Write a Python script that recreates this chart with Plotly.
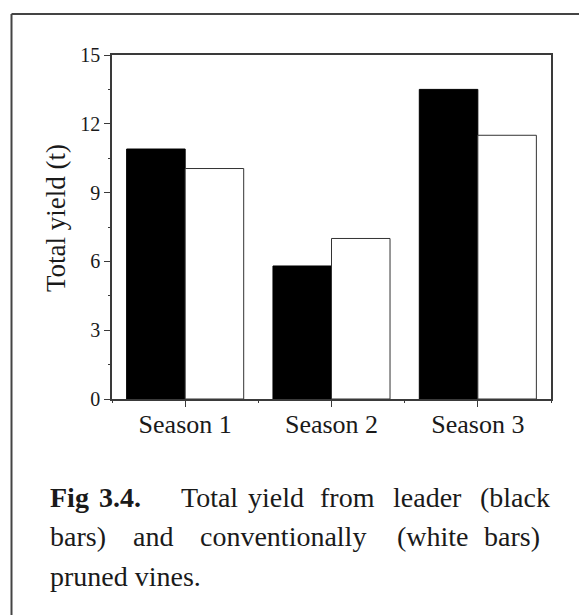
import plotly.graph_objects as go

# ---- data ----
seasons = ["Season 1", "Season 2", "Season 3"]
leader_yield = [10.9, 5.8, 13.5]          # black bars
conventional_yield = [10.05, 7.0, 11.5]    # white bars
y_ticks = [0, 3, 6, 9, 12, 15]

# ---- layout geometry (pixels) ----
W, H = 579, 615
L, R, T, B = 112, 551, 55, 399
PW, PH = R - L, B - T

def px_x(px):
    return (px - L) / PW

def px_y(py):
    return (B - py) / PH

FONT = "Liberation Serif"
TXT = "#1a1a1a"
AX = "#3a3a3a"

xpos = list(range(len(seasons)))

fig = go.Figure()
fig.add_trace(go.Bar(x=xpos, y=leader_yield, name="Leader",
                     marker=dict(color="black", line=dict(color="black", width=1))))
fig.add_trace(go.Bar(x=xpos, y=conventional_yield, name="Conventional",
                     marker=dict(color="white", line=dict(color="#333333", width=1))))

fig.update_layout(
    width=W, height=H,
    margin=dict(l=L, r=W - R, t=T, b=H - B),
    paper_bgcolor="white", plot_bgcolor="white",
    barmode="group", bargap=0.2, bargroupgap=0,
    showlegend=False,
    font=dict(family=FONT, color=TXT),
)

fig.update_xaxes(
    range=[-0.5, 2.5], tickmode="array", tickvals=xpos, ticktext=seasons,
    ticks="outside", ticklen=6, tickwidth=1.2, tickcolor=AX,
    ticklabelstandoff=-5,
    minor=dict(tickmode="linear", tick0=0.5, dtick=1, ticks="outside",
               ticklen=2, tickwidth=1, tickcolor=AX, showgrid=False),
    showline=True, linecolor=AX, linewidth=1.5, mirror=True,
    showgrid=False, zeroline=False,
    tickfont=dict(family=FONT, size=26, color=TXT),
)
fig.update_yaxes(
    range=[0, 15], tickmode="array", tickvals=y_ticks,
    ticks="outside", ticklen=6, tickwidth=1.2, tickcolor=AX,
    minor=dict(tickmode="linear", tick0=1.5, dtick=3, ticks="outside",
               ticklen=2, tickwidth=1, tickcolor=AX, showgrid=False),
    showline=True, linecolor=AX, linewidth=1.5, mirror=True,
    showgrid=False, zeroline=False,
    tickfont=dict(family=FONT, size=20, color=TXT),
)

annotations = []
# y-axis title
annotations.append(dict(
    text="Total yield (t)", textangle=-90, showarrow=False,
    xref="paper", yref="paper", x=px_x(56), y=px_y(218),
    xanchor="center", yanchor="middle",
    font=dict(family=FONT, size=27, color=TXT)))

# caption, laid out word by word to mimic justified text
caption_lines = [
    (497, [("<b>Fig</b>", 48), ("<b>3.4.</b>", 97), ("Total", 179), ("yield", 246),
           ("from", 318), ("leader", 391), ("(black", 478)]),
    (536, [("bars)", 48), ("and", 131), ("conventionally", 198), ("(white", 395),
           ("bars)", 482)]),
    (576, [("pruned vines.", 48)]),
]
for ypx, words in caption_lines:
    for word, xpx in words:
        annotations.append(dict(
            text=word, showarrow=False, xref="paper", yref="paper",
            x=px_x(xpx), y=px_y(ypx), xanchor="left", yanchor="middle",
            font=dict(family=FONT, size=28, color=TXT)))
fig.update_layout(annotations=annotations)

# outer frame (left and top edges)
frame_left, frame_top = 11.5, 14
fig.add_shape(type="line", xref="paper", yref="paper",
              x0=px_x(frame_left), y0=px_y(frame_top), x1=px_x(W + 5), y1=px_y(frame_top),
              line=dict(color="#444444", width=2))
fig.add_shape(type="line", xref="paper", yref="paper",
              x0=px_x(frame_left), y0=px_y(frame_top), x1=px_x(frame_left), y1=px_y(H + 5),
              line=dict(color="#444444", width=2))

fig.write_html("out.html")
